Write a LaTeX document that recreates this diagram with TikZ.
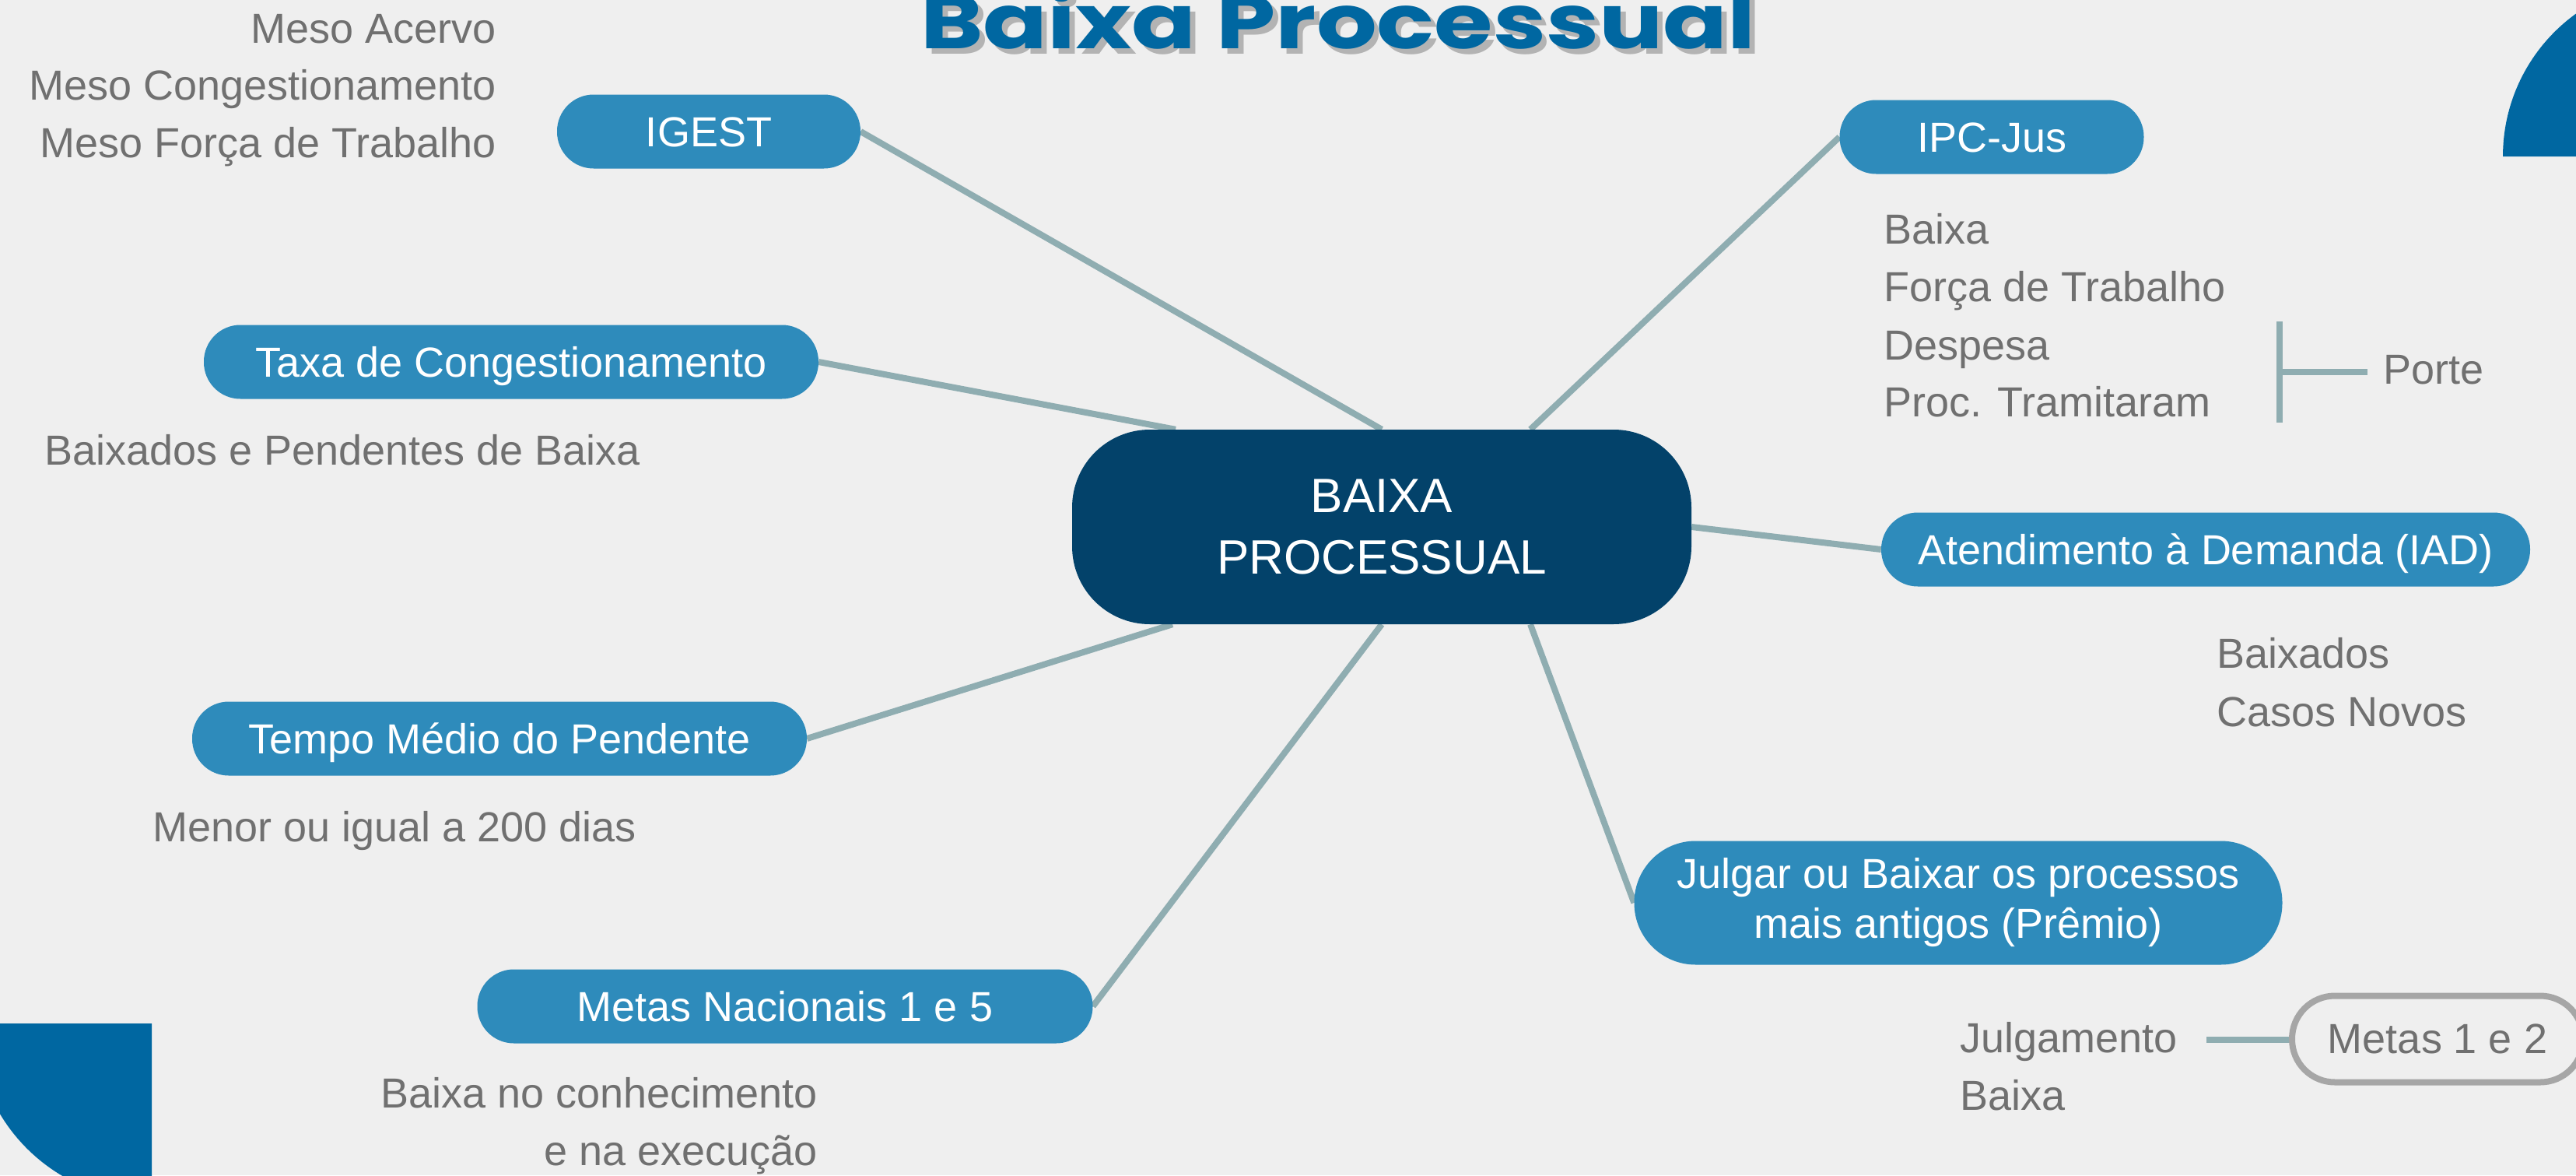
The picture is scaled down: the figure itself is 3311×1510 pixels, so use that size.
\documentclass[tikz,border=0pt]{standalone}
\usepackage{fontspec}
\setmainfont{Liberation Sans}
\newfontfamily\titlefont{Poppins}
\usepackage{graphicx}
\usetikzlibrary{backgrounds}
\definecolor{bgcol}{HTML}{EFEFEF}
\definecolor{cornerblue}{HTML}{0067A1}
\definecolor{pillblue}{HTML}{2E8BBB}
\definecolor{navy}{HTML}{03426A}
\definecolor{linkcol}{HTML}{8FADB1}
\definecolor{greytext}{HTML}{707070}
\definecolor{outlinegrey}{HTML}{A6A6A6}
\definecolor{shadowgrey}{HTML}{B3B3B3}
\tikzset{
  pill/.style={fill=pillblue, text=white, rounded corners=47pt, minimum height=95pt,
    inner sep=0pt, font=\fontsize{54}{64}\selectfont, text height=39pt, text depth=0pt},
  pilltwo/.style={fill=pillblue, text=white, rounded corners=79pt, minimum height=159pt,
    inner sep=0pt, align=center, font=\fontsize{54}{64}\selectfont},
  gtxt/.style={text=greytext, inner sep=0pt, font=\fontsize{54}{74}\selectfont},
  link/.style={draw=linkcol, line width=8pt},
  titletext/.style={inner sep=0pt, anchor=base}
}
\newcommand{\titlestr}{\scalebox{1.26}[1]{\titlefont\bfseries\fontsize{97}{97}\selectfont Baixa Processual}}
\begin{document}
\begin{tikzpicture}[x=1pt,y=-1pt]
\useasboundingbox (0,0) rectangle (3311,1510);
\begin{scope}[on background layer]
  \fill[bgcol] (0,0) rectangle (3311,1510);
  \begin{scope}
    \clip (0,0) rectangle (3311,1510);
    \fill[cornerblue] (3443,201) -- (3217,201) arc[start angle=180, end angle=270, radius=226] -- cycle;
    \fill[cornerblue] (195,1315) -- (195,1542) arc[start angle=90, end angle=180, radius=227] -- cycle;
  \end{scope}
\end{scope}

% title with drop shadow (one text node)
\node[titletext, text=cornerblue] (title) at (1720,62)
  {\makebox[0pt][l]{\hspace{7pt}\raisebox{-7pt}{\color{shadowgrey}\titlestr}}\titlestr};

% central node
\node[fill=navy, text=white, rounded corners=100pt, minimum width=796pt, minimum height=250pt,
  align=center, inner sep=0pt, font=\fontsize{62}{79}\selectfont] (cen) at (1776,677) {BAIXA\\PROCESSUAL};

% pills
\node[pill, minimum width=390pt] (igest) at (911,169) {IGEST};
\node[pill, minimum width=790pt] (taxa) at (657,465) {Taxa de Congestionamento};
\node[pill, minimum width=790pt] (tempo) at (642,949) {Tempo Médio do Pendente};
\node[pill, minimum width=791pt] (metas) at (1009,1293) {Metas Nacionais 1 e 5};
\node[pill, minimum width=391pt] (ipc) at (2560,176) {IPC-Jus};
\node[pill, minimum width=834pt] (iad) at (2835,706) {Atendimento à Demanda (IAD)};
\node[pilltwo, minimum width=833pt] (julgar) at (2517,1160) {Julgar ou Baixar os processos\\mais antigos (Prêmio)};
\node[draw=outlinegrey, line width=8pt, rounded corners=55pt, minimum width=374pt, minimum height=111pt,
  inner sep=0pt, text=greytext, font=\fontsize{54}{64}\selectfont] (metasdois) at (3133,1335) {Metas 1 e 2};

% grey texts left
\node[gtxt, anchor=base east] (mesoA) at (638,55) {Meso Acervo};
\node[gtxt, anchor=base east] (mesoC) at (638,128) {Meso Congestionamento};
\node[gtxt, anchor=base east] (mesoF) at (638,202) {Meso Força de Trabalho};
\node[gtxt, anchor=base west] (bpb) at (57,597) {Baixados e Pendentes de Baixa};
\node[gtxt, anchor=base west] (menor) at (196,1081) {Menor ou igual a 200 dias};
\node[gtxt, anchor=base east] (bnca) at (1051,1423) {Baixa no conhecimento};
\node[gtxt, anchor=base east] (bncb) at (1051,1497) {e na execução};

% grey texts right
\node[gtxt, anchor=base west] (ra) at (2421,313) {Baixa};
\node[gtxt, anchor=base west] (rb) at (2421,387) {Força de Trabalho};
\node[gtxt, anchor=base west] (rc) at (2421,462) {Despesa};
\node[gtxt, anchor=base west] (rd) at (2421,535) {Proc. Tramitaram};
\node[gtxt, anchor=base west] (porte) at (3063,493) {Porte};
\node[gtxt, anchor=base west] (bxd) at (2849,858) {Baixados};
\node[gtxt, anchor=base west] (cno) at (2849,933) {Casos Novos};
\node[gtxt, anchor=base west] (julg) at (2519,1352) {Julgamento};
\node[gtxt, anchor=base west] (jbx) at (2519,1426) {Baixa};

% bracket and connector coordinates
\coordinate (bt) at (2930,413);
\coordinate (bb) at (2930,543);
\coordinate (bm) at (2930,478);
\coordinate (jl) at (2836,1336);

\begin{scope}[on background layer]
  \draw[link] (igest.east) -- (cen.north);
  \draw[link] (taxa.east) -- ([xshift=-265pt]cen.north);
  \draw[link] (tempo.east) -- ([xshift=-269pt]cen.south);
  \draw[link] (metas.east) -- (cen.south);
  \draw[link] (ipc.west) -- ([xshift=191pt]cen.north);
  \draw[link] (iad.west) -- (cen.east);
  \draw[link] (julgar.west) -- ([xshift=191pt]cen.south);
  \draw[link] (bt) -- (bb);
  \draw[link, shorten >=20pt] (bm) -- (bm -| porte.west);
  \draw[link] (jl) -- (jl -| metasdois.west);
\end{scope}
\end{tikzpicture}
\end{document}
